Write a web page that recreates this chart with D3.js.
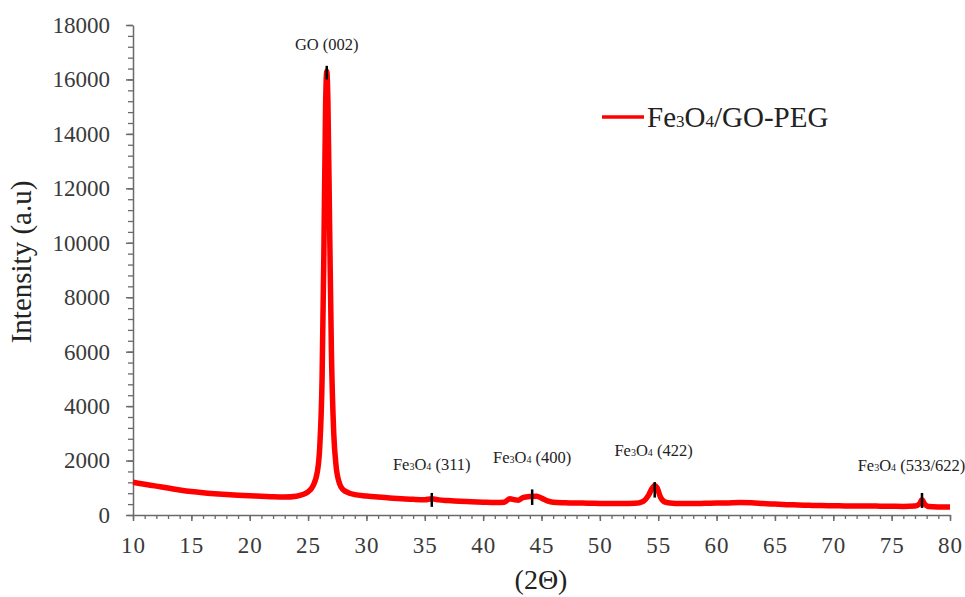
<!DOCTYPE html>
<html>
<head>
<meta charset="utf-8">
<script src="https://cdn.jsdelivr.net/npm/d3@7"></script>
<style>
  body { margin: 0; background: #fff; }
  text { font-family: "Liberation Serif", "Times New Roman", serif; }
</style>
</head>
<body>
<div id="chart"></div>
<script>
var width = 965;
var height = 597;

// 2θ values and intensity
var twoTheta = [10, 11, 12, 13, 14, 15, 16, 17, 18, 19, 20, 21, 22, 23, 24, 24.6, 25, 25.4, 25.8, 26, 26.2, 26.35, 26.5, 26.6, 26.7, 26.85, 27, 27.2, 27.4, 27.7, 28, 28.5, 29, 30, 31, 32, 33, 34, 35, 35.6, 36.2, 37, 38, 39, 40, 41, 41.8, 42.3, 42.7, 43, 43.4, 44, 44.6, 45, 45.5, 46, 47, 48, 49, 50, 51, 52, 53, 53.7, 54.2, 54.5, 54.7, 54.9, 55.2, 55.6, 56, 57, 58, 59, 60, 61, 62, 63, 64, 65, 66, 67, 68, 69, 70, 71, 72, 73, 74, 75, 76, 77, 77.4, 77.6, 77.8, 78.2, 79, 80];
var intensity = [1200, 1130, 1060, 990, 920, 860, 815, 780, 750, 725, 705, 690, 670, 660, 690, 760, 850, 1050, 1600, 2500, 5000, 9500, 15000, 16300, 15200, 10500, 6000, 3000, 1800, 1150, 930, 810, 750, 700, 660, 625, 600, 575, 560, 600, 555, 530, 505, 490, 470, 455, 470, 600, 560, 540, 640, 680, 690, 620, 520, 470, 450, 440, 435, 425, 420, 420, 430, 500, 750, 1000, 1080, 1000, 650, 470, 440, 420, 420, 430, 440, 445, 455, 450, 420, 400, 380, 370, 355, 345, 340, 335, 330, 330, 325, 320, 315, 330, 420, 560, 420, 310, 295, 290];

var seriesName = ["Fe", "3", "O", "4", "/GO-PEG"];

// peak markers: position, low and high intensity of the black tick
var peakPos = [26.6, 35.6, 44.2, 54.7, 77.6];
var peakLow = [16000, 300, 370, 640, 260];
var peakHigh = [16500, 810, 940, 1210, 810];

// peak labels: text, x (2θ), y (intensity)
var labelText = ["GO (002)", "(311)", "(400)", "(422)", "(533/622)"];
var labelX = [26.6, 35.6, 44.2, 54.6, 76.7];
var labelY = [17100, 1650, 1900, 2150, 1600];

var xTicks = [10, 15, 20, 25, 30, 35, 40, 45, 50, 55, 60, 65, 70, 75, 80];
var yTicks = [0, 2000, 4000, 6000, 8000, 10000, 12000, 14000, 16000, 18000];

var svg = d3.select("#chart")
    .append("svg")
    .attr("width", width)
    .attr("height", height)
    .style("background-color", "#fff");

var xScale = d3.scaleLinear().domain([10, 80]).range([133, 950]);
var yScale = d3.scaleLinear().domain([0, 18000]).range([515, 25]);

var axisColor = "#6a6a6a";
var textColor = "#3a3a3a";
var serif = "'Liberation Serif', 'Times New Roman', serif";

// minor ticks
var xMinor = d3.range(10, 80.01, 1);
var yMinor = d3.range(0, 18000.1, 400);

svg.append("g")
    .attr("transform", "translate(0,515)")
    .call(d3.axisBottom(xScale).tickValues(xMinor).tickSize(4).tickFormat(""))
    .call(g => g.select(".domain").remove())
    .call(g => g.selectAll("line").attr("stroke", axisColor).attr("stroke-width", 1.3));

svg.append("g")
    .attr("transform", "translate(133,0)")
    .call(d3.axisLeft(yScale).tickValues(yMinor).tickSize(5).tickFormat(""))
    .call(g => g.select(".domain").remove())
    .call(g => g.selectAll("line").attr("stroke", axisColor).attr("stroke-width", 1.3));

// major axes
var xAxis = svg.append("g")
    .attr("transform", "translate(0,515)")
    .attr("font-family", serif)
    .call(d3.axisBottom(xScale).tickValues(xTicks).tickSize(6).tickPadding(16).tickSizeOuter(0));
xAxis.select(".domain").attr("stroke", axisColor).attr("stroke-width", 1.5);
xAxis.selectAll("line").attr("stroke", axisColor).attr("stroke-width", 1.5);
xAxis.selectAll("text")
    .attr("fill", textColor)
    .style("font-family", serif)
    .style("font-size", "23px")
    .style("letter-spacing", "1px");

var yAxis = svg.append("g")
    .attr("transform", "translate(133,0)")
    .attr("font-family", serif)
    .call(d3.axisLeft(yScale).tickValues(yTicks).tickFormat(d3.format("d"))
        .tickSize(7).tickPadding(16).tickSizeOuter(0));
yAxis.select(".domain").attr("stroke", axisColor).attr("stroke-width", 1.5);
yAxis.selectAll("line").attr("stroke", axisColor).attr("stroke-width", 1.5);
yAxis.selectAll("text")
    .attr("fill", textColor)
    .style("font-family", serif)
    .style("font-size", "23px");

// axis titles
svg.append("text")
    .attr("transform", "translate(31,262) rotate(-90)")
    .attr("text-anchor", "middle")
    .attr("fill", "#222")
    .style("font-size", "29px")
    .text("Intensity (a.u)");

svg.append("text")
    .attr("x", 541)
    .attr("y", 589)
    .attr("text-anchor", "middle")
    .attr("fill", "#222")
    .style("font-size", "28px")
    .text("(2\u0398)");

// pattern
var points = twoTheta.map((t, i) => [t, intensity[i]]);
var line = d3.line()
    .x(d => xScale(d[0]))
    .y(d => yScale(d[1]))
    .curve(d3.curveMonotoneX);

svg.append("path")
    .datum(points)
    .attr("d", line)
    .attr("fill", "none")
    .attr("stroke", "#ff0000")
    .attr("stroke-width", 5.5)
    .attr("stroke-linejoin", "round");

// peak markers
peakPos.forEach((p, i) => {
    svg.append("line")
        .attr("x1", xScale(p)).attr("x2", xScale(p))
        .attr("y1", yScale(peakLow[i])).attr("y2", yScale(peakHigh[i]))
        .attr("stroke", "#000")
        .attr("stroke-width", 2.5);
});

// peak labels
labelText.forEach((t, i) => {
    var txt = svg.append("text")
        .attr("x", xScale(labelX[i]))
        .attr("y", yScale(labelY[i]))
        .attr("text-anchor", "middle")
        .attr("fill", "#222")
        .style("font-size", "16.5px");
    if (i === 0) {
        txt.text(t);
    } else {
        txt.append("tspan").text("Fe");
        txt.append("tspan").style("font-size", "10px").text("3");
        txt.append("tspan").text("O");
        txt.append("tspan").style("font-size", "10px").text("4");
        txt.append("tspan").text(" " + t);
    }
});

// legend
svg.append("line")
    .attr("x1", 602).attr("x2", 644)
    .attr("y1", 117).attr("y2", 117)
    .attr("stroke", "#ff0000")
    .attr("stroke-width", 3.5);

var leg = svg.append("text")
    .attr("x", 647)
    .attr("y", 127)
    .attr("fill", "#222")
    .style("font-size", "29px");
seriesName.forEach((s, i) => {
    leg.append("tspan")
        .style("font-size", (i === 1 || i === 3) ? "17px" : "29px")
        .text(s);
});
</script>
</body>
</html>
